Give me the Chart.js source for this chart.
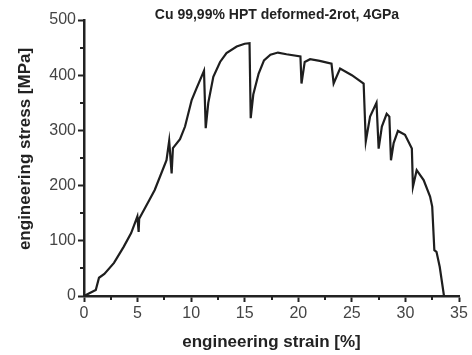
<!DOCTYPE html>
<html>
<head>
<meta charset="utf-8">
<script src="https://cdn.jsdelivr.net/npm/chart.js@4.4.0/dist/chart.umd.min.js"></script>
<style>
  html,body{margin:0;padding:0;background:#fff;}
  #wrap{width:472px;height:355px;position:relative;}
</style>
</head>
<body>
<div id="wrap"><canvas id="c" width="472" height="355"></canvas></div>
<script>
const chartTitle = "Cu 99,99% HPT deformed-2rot, 4GPa";
const xTitle = "engineering strain [%]";
const yTitle = "engineering stress [MPa]";

// strain [%]
const strain = [0, 0.5, 1.1, 1.4, 1.9, 2.8, 3.7, 4.4, 4.98, 5.1, 5.15, 6.1, 6.6, 7.7, 7.95, 8.18, 8.3, 8.96, 9.43, 10.05, 10.5,
  11.2, 11.36, 11.6, 12.07, 12.7, 13.3, 14.25, 15.0, 15.45, 15.56, 15.8, 16.3, 16.8, 17.4, 18.1, 18.9, 20.2, 20.3, 20.6,
  21.1, 22.0, 23.1, 23.3, 23.9, 25.0, 26.1, 26.3, 26.7, 27.3, 27.5, 27.8, 28.25, 28.5, 28.65, 28.9, 29.3, 29.96, 30.6,
  30.7, 31.05, 31.7, 32.3, 32.5, 32.7, 32.9, 33.2, 33.6];
// stress [MPa]
const stress = [0, 5, 11, 33, 40, 60, 89, 114, 144, 116, 140, 174, 192, 246, 281, 222, 268, 284, 307, 355, 376,
  408, 304, 350, 397, 424, 440, 452, 457, 458, 322, 365, 403, 427, 437, 441, 438, 434, 385, 424,
  429, 426, 421, 385, 412, 400, 385, 280, 325, 350, 267, 307, 330, 325, 246, 277, 299, 292, 267,
  198, 228, 210, 180, 162, 83, 80, 53, 0];

const pts = strain.map((x, i) => ({x: x, y: stress[i]}));

const FONT = "'Liberation Sans', Arial, sans-serif";

// title, rotated y title and the short minor ticks
const extras = {
  id: "extras",
  afterDraw(chart){
    const ctx = chart.ctx;
    const xs = chart.scales.x, ys = chart.scales.y;
    ctx.save();
    ctx.fillStyle = "#222";
    ctx.textAlign = "center";
    ctx.textBaseline = "middle";
    ctx.font = "bold 14px " + FONT;
    ctx.fillText(chartTitle, 277, 15);

    ctx.save();
    ctx.translate(25, 149);
    ctx.rotate(-Math.PI / 2);
    ctx.font = "bold 17px " + FONT;
    ctx.fillText(yTitle, 0, 0);
    ctx.restore();

    ctx.strokeStyle = "#222";
    ctx.lineWidth = 2;
    ctx.beginPath();
    for (let v = 2.5; v < 35; v += 5) {
      const px = Math.round(xs.getPixelForValue(v));
      ctx.moveTo(px, xs.top); ctx.lineTo(px, xs.top + 4);
    }
    for (let v = 50; v < 500; v += 100) {
      const py = Math.round(ys.getPixelForValue(v));
      ctx.moveTo(ys.right, py); ctx.lineTo(ys.right - 4, py);
    }
    ctx.stroke();
    ctx.restore();
  }
};

const tickFont = {family: FONT, size: 16};
const titleFont = {family: FONT, size: 17, weight: "bold"};

new Chart(document.getElementById("c").getContext("2d"), {
  type: "scatter",
  data: { datasets: [{ data: pts, showLine: true, borderColor: "#1e1e1e", borderWidth: 2.2, pointRadius: 0, tension: 0 }] },
  options: {
    responsive: false,
    animation: false,
    layout: { padding: { top: 20, right: 13, left: 0, bottom: 0 } },
    plugins: { legend: { display: false }, tooltip: { enabled: false } },
    scales: {
      x: {
        type: "linear", min: 0, max: 35,
        afterFit(s){ s.height = 59; },
        border: { display: true, color: "#222", width: 2.5 },
        grid: { drawOnChartArea: false, drawTicks: true, tickLength: 6, tickWidth: 2, tickColor: "#222" },
        ticks: { stepSize: 5, color: "#444", font: tickFont, padding: 2, maxRotation: 0 },
        title: { display: true, text: xTitle, color: "#222", font: titleFont, padding: { top: 2, bottom: 2 } }
      },
      y: {
        type: "linear", min: 0, max: 500,
        afterFit(s){ s.width = 84; },
        border: { display: true, color: "#222", width: 2.5 },
        grid: { drawOnChartArea: false, drawTicks: true, tickLength: 6, tickWidth: 2, tickColor: "#222" },
        ticks: { stepSize: 100, color: "#444", font: tickFont, padding: 2 },
        title: { display: false }
      }
    }
  },
  plugins: [extras]
});
</script>
</body>
</html>
